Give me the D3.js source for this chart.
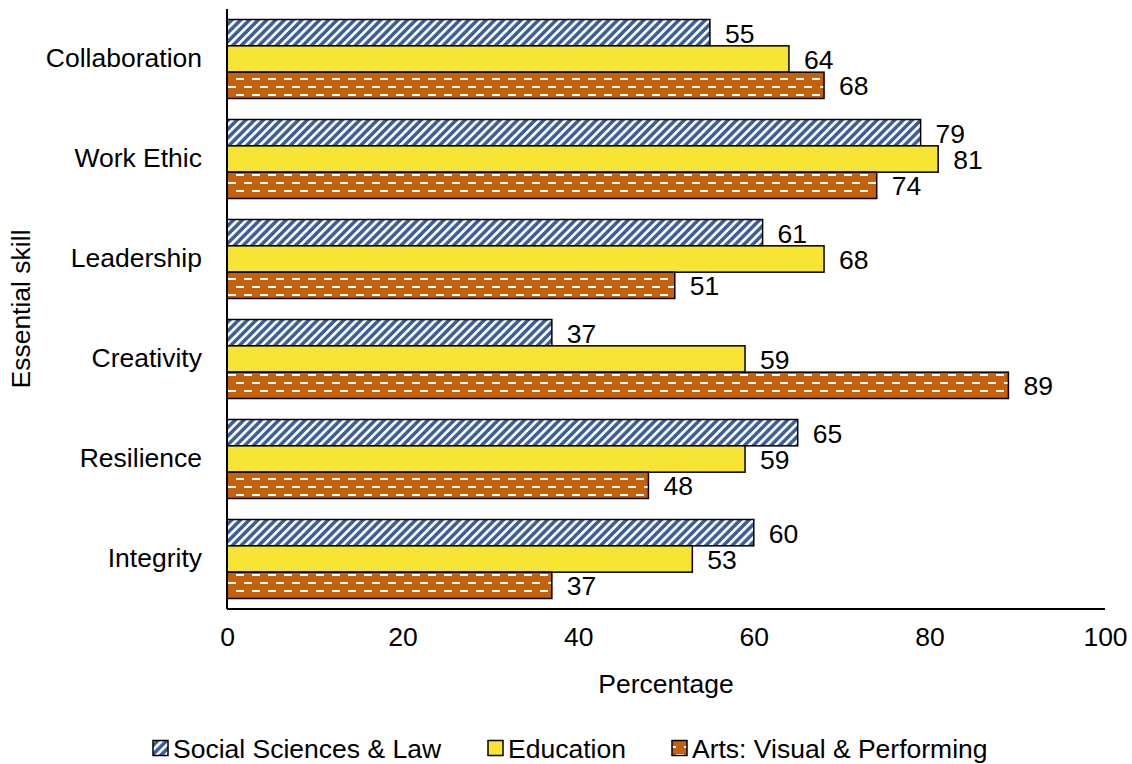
<!DOCTYPE html>
<html><head><meta charset="utf-8">
<script src="https://cdn.jsdelivr.net/npm/d3@7"></script>
<style>body{margin:0;background:#fff}svg{display:block}text{font-family:"Liberation Sans",Arial,sans-serif;fill:#000}</style>
</head><body>
<script>
const categories = ["Collaboration","Work Ethic","Leadership","Creativity","Resilience","Integrity"];
const seriesNames = ["Social Sciences & Law","Education","Arts: Visual & Performing"];
const socialSciences = [55,79,61,37,65,60];
const education = [64,81,68,59,59,53];
const arts = [68,74,51,89,48,37];
const xTicks = [0,20,40,60,80,100];
const seriesValues = [socialSciences, education, arts];

const W=1132,H=764;
const x0=227,x1=1105,yTop=9,yBot=609;
const fs=26.5;
const svg=d3.select("body").append("svg").attr("width",W).attr("height",H);
const defs=svg.append("defs");
const pBlue=defs.append("pattern").attr("id","pBlue").attr("patternUnits","userSpaceOnUse")
  .attr("width",6.2).attr("height",10).attr("patternTransform","rotate(45)");
pBlue.append("rect").attr("width",6.2).attr("height",10).attr("fill","#3C5E9A");
pBlue.append("rect").attr("width",2.7).attr("height",10).attr("fill","#fff");
const pOr=defs.append("pattern").attr("id","pOr").attr("patternUnits","userSpaceOnUse")
  .attr("width",16).attr("height",16).attr("x",0).attr("y",6);
pOr.append("rect").attr("width",16).attr("height",16).attr("fill","#C5600B");
pOr.append("rect").attr("x",4).attr("y",0).attr("width",8).attr("height",2).attr("fill","#fff");
pOr.append("rect").attr("x",12).attr("y",8).attr("width",8).attr("height",2).attr("fill","#fff");
pOr.append("rect").attr("x",-4).attr("y",8).attr("width",8).attr("height",2).attr("fill","#fff");
const fills=["url(#pBlue)","#F7E433","url(#pOr)"];

const x=d3.scaleLinear().domain([0,100]).range([x0,x1]);
const y=d3.scaleBand().domain(categories).range([yTop,yBot]).paddingInner(0.21).paddingOuter(0.105);
const ys=d3.scaleBand().domain(d3.range(3)).range([0,y.bandwidth()]);

const g=svg.append("g");
categories.forEach((c,ci)=>{
  seriesValues.forEach((vals,si)=>{
    const v=vals[ci];
    const by=y(c)+ys(si);
    g.append("rect").attr("x",x(0)).attr("y",by).attr("width",x(v)-x(0)).attr("height",ys.bandwidth())
      .attr("fill",fills[si]).attr("stroke","#000").attr("stroke-width",1.5);
    g.append("text").attr("x",x(v)+15).attr("y",by+ys.bandwidth()/2).attr("dy","0.38em")
      .attr("font-size",fs).text(v);
  });
});

// y axis
const ya=svg.append("g").attr("transform",`translate(${x0},0)`).call(d3.axisLeft(y).tickSize(0).tickPadding(25));
ya.select(".domain").attr("stroke","#000").attr("stroke-width",2).attr("d",`M0,${yTop}V${yBot}`);
ya.selectAll("text").attr("font-size",fs).attr("font-family",'"Liberation Sans",Arial,sans-serif');
// x axis
const xa=svg.append("g").attr("transform",`translate(0,${yBot})`).call(d3.axisBottom(x).tickValues(xTicks).tickSize(0).tickPadding(18));
xa.select(".domain").attr("stroke","#000").attr("stroke-width",2).attr("d",`M${x0},0H${x1}`);
xa.selectAll("text").attr("font-size",fs).attr("font-family",'"Liberation Sans",Arial,sans-serif');

svg.append("text").attr("x",(x0+x1)/2).attr("y",683).attr("dy","0.36em").attr("text-anchor","middle").attr("font-size",fs).text("Percentage");
svg.append("text").attr("transform",`translate(20,${(yTop+yBot)/2}) rotate(-90)`).attr("dy","0.36em").attr("text-anchor","middle").attr("font-size",fs).text("Essential skill");

// legend
const legX=[153,488,672];
seriesNames.forEach((n,i)=>{
  const lg=svg.append("g").attr("transform",`translate(${legX[i]},748)`);
  lg.append("rect").attr("x",0).attr("y",-7.5).attr("width",15).attr("height",15).attr("fill",fills[i]).attr("stroke","#000").attr("stroke-width",1.5);
  lg.append("text").attr("x",20).attr("y",0).attr("dy","0.36em").attr("font-size",fs).text(n);
});
</script>
</body></html>
